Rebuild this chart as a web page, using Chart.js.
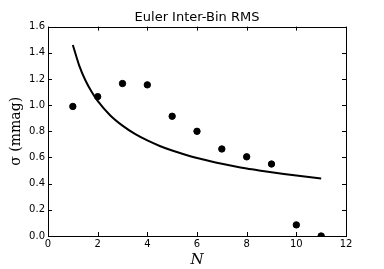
<!DOCTYPE html>
<html>
<head>
<meta charset="utf-8">
<script src="https://cdn.jsdelivr.net/npm/chart.js@4"></script>
<style>
  html, body { margin: 0; padding: 0; background: #fff; }
  #wrap { width: 384px; height: 269px; }
</style>
</head>
<body>
<div id="wrap"><canvas id="myChart" width="384" height="269"></canvas></div>
<script>
// measured points
const nValues = [1, 2, 3, 4, 5, 6, 7, 8, 9, 10, 11];
const sigmaValues = [0.99, 1.065, 1.165, 1.155, 0.915, 0.80, 0.665, 0.605, 0.55, 0.085, 0.0];

// curve
const curveN = [1, 1.25, 1.5, 1.75, 2, 2.5, 3, 3.5, 4, 4.5, 5, 5.5, 6, 6.5, 7, 7.5, 8, 8.5, 9, 9.5, 10, 10.5, 11];
const curveSigma = [1.460, 1.306, 1.192, 1.104, 1.032, 0.923, 0.843, 0.780, 0.730, 0.688, 0.653, 0.623, 0.596,
  0.573, 0.552, 0.533, 0.516, 0.501, 0.487, 0.474, 0.462, 0.451, 0.440];

const xTicks = [0, 2, 4, 6, 8, 10, 12];
const yTicks = [0.0, 0.2, 0.4, 0.6, 0.8, 1.0, 1.2, 1.4, 1.6];

// matplotlib-like frame with inward ticks on all sides
const frameTicks = {
  id: 'frameTicks',
  afterDraw(chart) {
    const c = chart.ctx, a = chart.chartArea;
    const xs = chart.scales.x, ys = chart.scales.y;
    c.save();
    c.strokeStyle = '#000';
    c.lineWidth = 1;
    c.beginPath();
    xTicks.forEach(v => {
      const px = Math.round(xs.getPixelForValue(v)) + 0.5;
      c.moveTo(px, a.bottom); c.lineTo(px, a.bottom - 4);
      c.moveTo(px, a.top); c.lineTo(px, a.top + 4);
    });
    yTicks.forEach(v => {
      const py = Math.round(ys.getPixelForValue(v)) + 0.5;
      c.moveTo(a.left, py); c.lineTo(a.left + 4, py);
      c.moveTo(a.right, py); c.lineTo(a.right - 4, py);
    });
    c.stroke();
    c.strokeRect(Math.round(a.left) + 0.5, Math.round(a.top) + 0.5,
      Math.round(a.right - a.left), Math.round(a.bottom - a.top));
    c.restore();
  }
};

const ctx = document.getElementById('myChart').getContext('2d');
const chart = new Chart(ctx, {
  type: 'scatter',
  data: {
    datasets: [{
      label: 'fit',
      data: curveN.map((n, i) => ({ x: n, y: curveSigma[i] })),
      showLine: true,
      cubicInterpolationMode: 'monotone',
      borderColor: '#000',
      borderWidth: 2,
      pointRadius: 0,
      clip: 0
    }, {
      label: 'rms',
      data: nValues.map((n, i) => ({ x: n, y: sigmaValues[i] })),
      backgroundColor: '#000',
      borderColor: '#000',
      pointRadius: 3.2,
      clip: 0
    }]
  },
  options: {
    responsive: false,
    animation: false,
    layout: { padding: { left: 0, right: 38, top: 0, bottom: 0 } },
    plugins: {
      legend: { display: false },
      tooltip: { enabled: false },
      title: {
        display: true,
        fullSize: false,
        text: 'Euler Inter-Bin RMS',
        color: '#000',
        font: { family: 'DejaVu Sans', size: 13, weight: 'normal' },
        padding: { top: 10, bottom: 1 }
      }
    },
    scales: {
      x: {
        type: 'linear',
        min: 0, max: 12,
        afterFit(s) { s.height = 33; },
        grid: { display: false, drawTicks: false },
        border: { display: false },
        ticks: {
          stepSize: 2,
          padding: 2,
          color: '#000',
          font: { family: 'DejaVu Sans', size: 10 }
        },
        title: {
          display: true,
          text: 'N',
          color: '#000',
          padding: 0,
          font: { family: 'DejaVu Serif', size: 15, style: 'italic' }
        }
      },
      y: {
        type: 'linear',
        min: 0, max: 1.6,
        afterFit(s) { s.width = 48; },
        grid: { display: false, drawTicks: false },
        border: { display: false },
        ticks: {
          stepSize: 0.2,
          padding: 3,
          color: '#000',
          font: { family: 'DejaVu Sans', size: 10 },
          callback: v => v.toFixed(1)
        },
        title: {
          display: true,
          text: 'σ (mmag)',
          color: '#000',
          padding: { top: 8, bottom: 0 },
          font: { family: 'DejaVu Serif', size: 14 }
        }
      }
    }
  },
  plugins: [frameTicks]
});
</script>
</body>
</html>
